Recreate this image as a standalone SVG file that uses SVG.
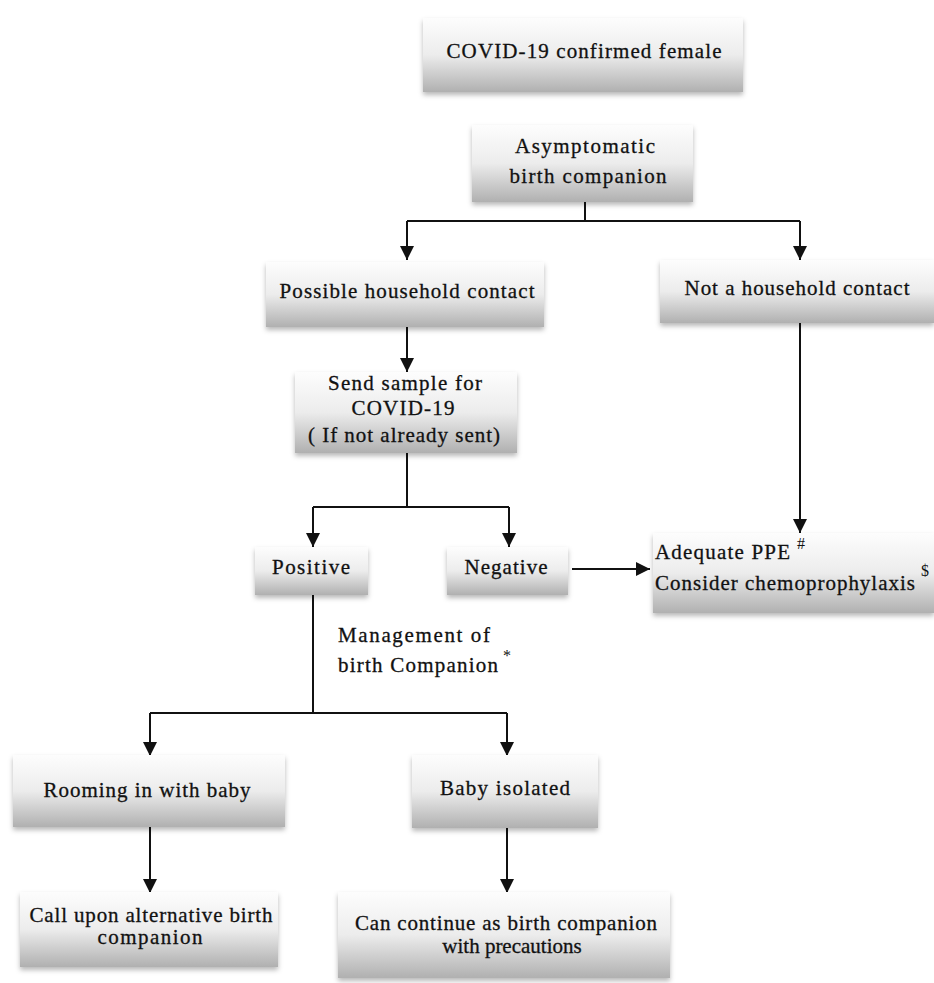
<svg xmlns="http://www.w3.org/2000/svg" width="934" height="983" viewBox="0 0 934 983">
<defs>
<linearGradient id="g" x1="0" y1="0" x2="0" y2="1">
<stop offset="0" stop-color="#fdfdfd"/>
<stop offset="0.5" stop-color="#ececec"/>
<stop offset="1" stop-color="#b0b0b0"/>
</linearGradient>
<filter id="sh" x="-10%" y="-20%" width="120%" height="150%">
<feDropShadow dx="0" dy="3" stdDeviation="2.5" flood-color="#000" flood-opacity="0.28"/>
</filter>
<marker id="ah" markerUnits="userSpaceOnUse" markerWidth="14" markerHeight="16" refX="14" refY="7" orient="auto">
<path d="M0,0 L14,7 L0,14 Z" fill="#111"/>
</marker>
</defs>
<style>
.box{fill:url(#g);filter:url(#sh);}
.t{font-family:"Liberation Serif","Times New Roman",serif;font-size:21px;fill:#111;stroke:#111;stroke-width:0.3;}
.c{text-anchor:middle;}
.sup{font-family:"Liberation Serif","Times New Roman",serif;font-size:16px;fill:#111;}
.ln{stroke:#111;stroke-width:2;fill:none;}
</style>
<rect width="934" height="983" fill="#fff"/>

<g id="connectors">
<path class="ln" d="M585,202 V221"/>
<path class="ln" d="M407,221 H800"/>
<path class="ln" d="M407,221 V260" marker-end="url(#ah)"/>
<path class="ln" d="M800,221 V260" marker-end="url(#ah)"/>
<path class="ln" d="M407,327 V372" marker-end="url(#ah)"/>
<path class="ln" d="M407,453 V507"/>
<path class="ln" d="M313,507 H509"/>
<path class="ln" d="M313,507 V547" marker-end="url(#ah)"/>
<path class="ln" d="M509,507 V547" marker-end="url(#ah)"/>
<path class="ln" d="M572,569 H650" marker-end="url(#ah)"/>
<path class="ln" d="M800,323 V533" marker-end="url(#ah)"/>
<path class="ln" d="M313,595 V713"/>
<path class="ln" d="M150,713 H507"/>
<path class="ln" d="M150,713 V756" marker-end="url(#ah)"/>
<path class="ln" d="M507,713 V756" marker-end="url(#ah)"/>
<path class="ln" d="M150,827 V893" marker-end="url(#ah)"/>
<path class="ln" d="M507,828 V893" marker-end="url(#ah)"/>
</g>

<g id="n-confirmed">
<rect class="box" x="423" y="18" width="320" height="74"/>
<text class="t c" x="584" y="58" textLength="275" lengthAdjust="spacing">COVID-19 confirmed female</text>
</g>

<g id="n-asymptomatic">
<rect class="box" x="472" y="125" width="221" height="77"/>
<text class="t c" x="585" y="153" textLength="140" lengthAdjust="spacing">Asymptomatic</text>
<text class="t c" x="588" y="183" textLength="157" lengthAdjust="spacing">birth companion</text>
</g>

<g id="n-possible">
<rect class="box" x="266" y="262" width="278" height="65"/>
<text class="t c" x="407" y="298" textLength="255" lengthAdjust="spacing">Possible household contact</text>
</g>

<g id="n-not">
<rect class="box" x="660" y="260" width="274" height="63"/>
<text class="t c" x="797" y="295" textLength="225" lengthAdjust="spacing">Not a household contact</text>
</g>

<g id="n-sample">
<rect class="box" x="295" y="372" width="222" height="81"/>
<text class="t c" x="405" y="390" textLength="154" lengthAdjust="spacing">Send sample for</text>
<text class="t c" x="403" y="415" textLength="103" lengthAdjust="spacing">COVID-19</text>
<text class="t c" x="404" y="442" textLength="192" lengthAdjust="spacing">( If not already sent)</text>
</g>

<g id="n-positive">
<rect class="box" x="255" y="547" width="113" height="48"/>
<text class="t c" x="311" y="574" textLength="78" lengthAdjust="spacing">Positive</text>
</g>

<g id="n-negative">
<rect class="box" x="447" y="547" width="121" height="48"/>
<text class="t c" x="506" y="574" textLength="83" lengthAdjust="spacing">Negative</text>
</g>

<g id="n-ppe">
<rect class="box" x="653" y="533" width="281" height="80"/>
<text class="t" x="655" y="559" textLength="135" lengthAdjust="spacing">Adequate PPE</text>
<text class="sup" x="797" y="549">#</text>
<text class="t" x="655" y="590" textLength="260" lengthAdjust="spacing">Consider chemoprophylaxis</text>
<text class="sup" x="921" y="576">$</text>
</g>

<g id="label-management">
<text class="t" x="338" y="642" textLength="152" lengthAdjust="spacing">Management of</text>
<text class="t" x="338" y="672" textLength="160" lengthAdjust="spacing">birth Companion</text>
<text class="sup" x="503" y="661">*</text>
</g>

<g id="n-rooming">
<rect class="box" x="13" y="755" width="272" height="72"/>
<text class="t c" x="147" y="797" textLength="207" lengthAdjust="spacing">Rooming in with baby</text>
</g>

<g id="n-isolated">
<rect class="box" x="412" y="755" width="186" height="73"/>
<text class="t c" x="505" y="795" textLength="130" lengthAdjust="spacing">Baby isolated</text>
</g>

<g id="n-callupon">
<rect class="box" x="20" y="892" width="258" height="75"/>
<text class="t c" x="151" y="922" textLength="243" lengthAdjust="spacing">Call upon alternative birth</text>
<text class="t c" x="150" y="944" textLength="105" lengthAdjust="spacing">companion</text>
</g>

<g id="n-continue">
<rect class="box" x="338" y="892" width="332" height="86"/>
<text class="t c" x="506" y="930" textLength="302" lengthAdjust="spacing">Can continue as birth companion</text>
<text class="t c" x="512" y="953">with precautions</text>
</g>
</svg>
